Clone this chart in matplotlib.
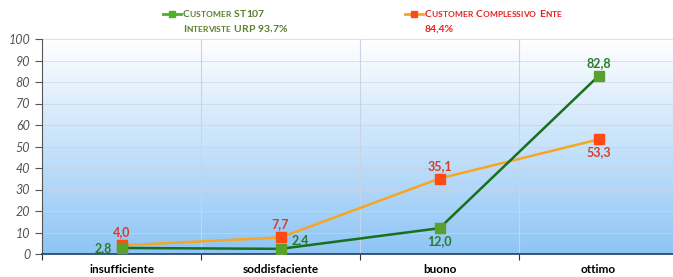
import numpy as np
import matplotlib
matplotlib.use("Agg")
import matplotlib.pyplot as plt
from matplotlib.lines import Line2D

categories = ["insufficiente", "soddisfaciente", "buono", "ottimo"]
st107 = [2.8, 2.4, 12.0, 82.8]
ente = [4.0, 7.7, 35.1, 53.3]
st107_labels = ["2,8", "2,4", "12,0", "82,8"]
ente_labels = ["4,0", "7,7", "35,1", "53,3"]

plt.rcParams["font.family"] = ["Lato", "DejaVu Sans"]

fig = plt.figure(figsize=(6.73, 2.77), dpi=100)
ax = fig.add_axes([42/673, 23/277, 636/673, 215/277])

# gradient background, white at top, light blue at bottom
grad = np.linspace(0, 1, 256).reshape(-1, 1)
cmap = matplotlib.colors.LinearSegmentedColormap.from_list("bg", ["#ffffff", "#8ec5f5"])
ax.imshow(grad, aspect="auto", cmap=cmap, extent=(-0.5, 3.5, 0, 100), origin="upper", zorder=0)

x = np.arange(len(categories))
ax.set_xlim(-0.5, 3.5)
ax.set_ylim(0, 100)

for b in [0.5, 1.5, 2.5]:
    ax.axvline(b, color="#c8d4e4", lw=0.8, zorder=1)
for yv in range(10, 101, 10):
    ax.axhline(yv, color="#c8d4e4", lw=0.6, zorder=1, alpha=0.8)

ax.plot(x, ente, color="#f5a623", lw=1.8, zorder=3)
ax.plot(x, ente, ls="none", marker="s", ms=7, color="#ff4a14", zorder=4)
ax.plot(x, st107, color="#16701c", lw=1.8, zorder=3)
ax.plot(x, st107, ls="none", marker="s", ms=7, color="#5aa02c", zorder=5)

green_txt = "#2a7a2a"
red_txt = "#d0402a"
kw = dict(fontsize=9, fontweight="bold", zorder=6)
# st107 labels
ax.annotate(st107_labels[0], (x[0], st107[0]), xytext=(-7, 0), textcoords="offset points",
            ha="right", va="center", color=green_txt, **kw)
ax.annotate(st107_labels[1], (x[1], st107[1]), xytext=(8, 6), textcoords="offset points",
            ha="left", va="center", color=green_txt, **kw)
ax.annotate(st107_labels[2], (x[2], st107[2]), xytext=(0, -5), textcoords="offset points",
            ha="center", va="top", color=green_txt, **kw)
ax.annotate(st107_labels[3], (x[3], st107[3]), xytext=(0, 5), textcoords="offset points",
            ha="center", va="bottom", color=green_txt, **kw)
# ente labels
for i in range(3):
    ax.annotate(ente_labels[i], (x[i], ente[i]), xytext=(0, 5), textcoords="offset points",
                ha="center", va="bottom", color=red_txt, **kw)
ax.annotate(ente_labels[3], (x[3], ente[3]), xytext=(0, -5), textcoords="offset points",
            ha="center", va="top", color=red_txt, **kw)

ax.set_xticks([-0.5, 0.5, 1.5, 2.5, 3.5])
ax.set_xticklabels([])
ax.set_xticks(x, minor=True)
ax.set_xticklabels(categories, minor=True, fontsize=8.5, fontweight="bold")
ax.tick_params(axis="x", which="minor", length=0, pad=7)
ax.tick_params(axis="x", which="major", length=4, color="#333333")
ax.set_yticks(range(0, 101, 10))
ax.set_yticklabels([str(v) for v in range(0, 101, 10)], fontsize=9, fontstyle="italic", color="#555555")
ax.tick_params(axis="y", length=5, color="#555555")

for s in ["top", "right"]:
    ax.spines[s].set_visible(False)
ax.spines["left"].set_color("#555555")
ax.spines["bottom"].set_color("#1f3d66")
ax.spines["bottom"].set_linewidth(1.2)


def small_caps(x0, y0, s, color, big=7.5, small=6):
    # draw text in small caps, measuring each piece
    r = fig.canvas.get_renderer()
    xpos = x0
    for ch in s:
        if ch == " ":
            xpos += 3.5 / 673
            continue
        size = big if (ch.isupper() or ch.isdigit() or ch in "%,") else small
        t = fig.text(xpos, y0, ch.upper(), color=color, fontsize=size, fontweight="bold",
                     va="baseline")
        xpos += t.get_window_extent(r).width / 673


gc = "#5a7f2a"
rc = "#e52020"
fig.add_artist(Line2D([163/673, 181/673], [263/277, 263/277], color="#4cb02c", lw=2,
                      transform=fig.transFigure))
fig.add_artist(Line2D([172/673], [263/277], color="#4cb02c", lw=0, marker="s", ms=5,
                      transform=fig.transFigure))
small_caps(183/673, 260/277, "Customer ST107", gc)
small_caps(183/673, 245/277, "Interviste URP 93,7%", gc)
fig.add_artist(Line2D([405/673, 423/673], [263/277, 263/277], color="#f5a623", lw=2,
                      transform=fig.transFigure))
fig.add_artist(Line2D([414/673], [263/277], color="#ff4a14", lw=0, marker="s", ms=5,
                      transform=fig.transFigure))
small_caps(425/673, 260/277, "Customer Complessivo Ente", rc)
fig.text(425/673, 245/277, "84,4%", color=rc, fontsize=7.5, fontweight="bold", va="baseline")

fig.savefig("out.png", dpi=100)
